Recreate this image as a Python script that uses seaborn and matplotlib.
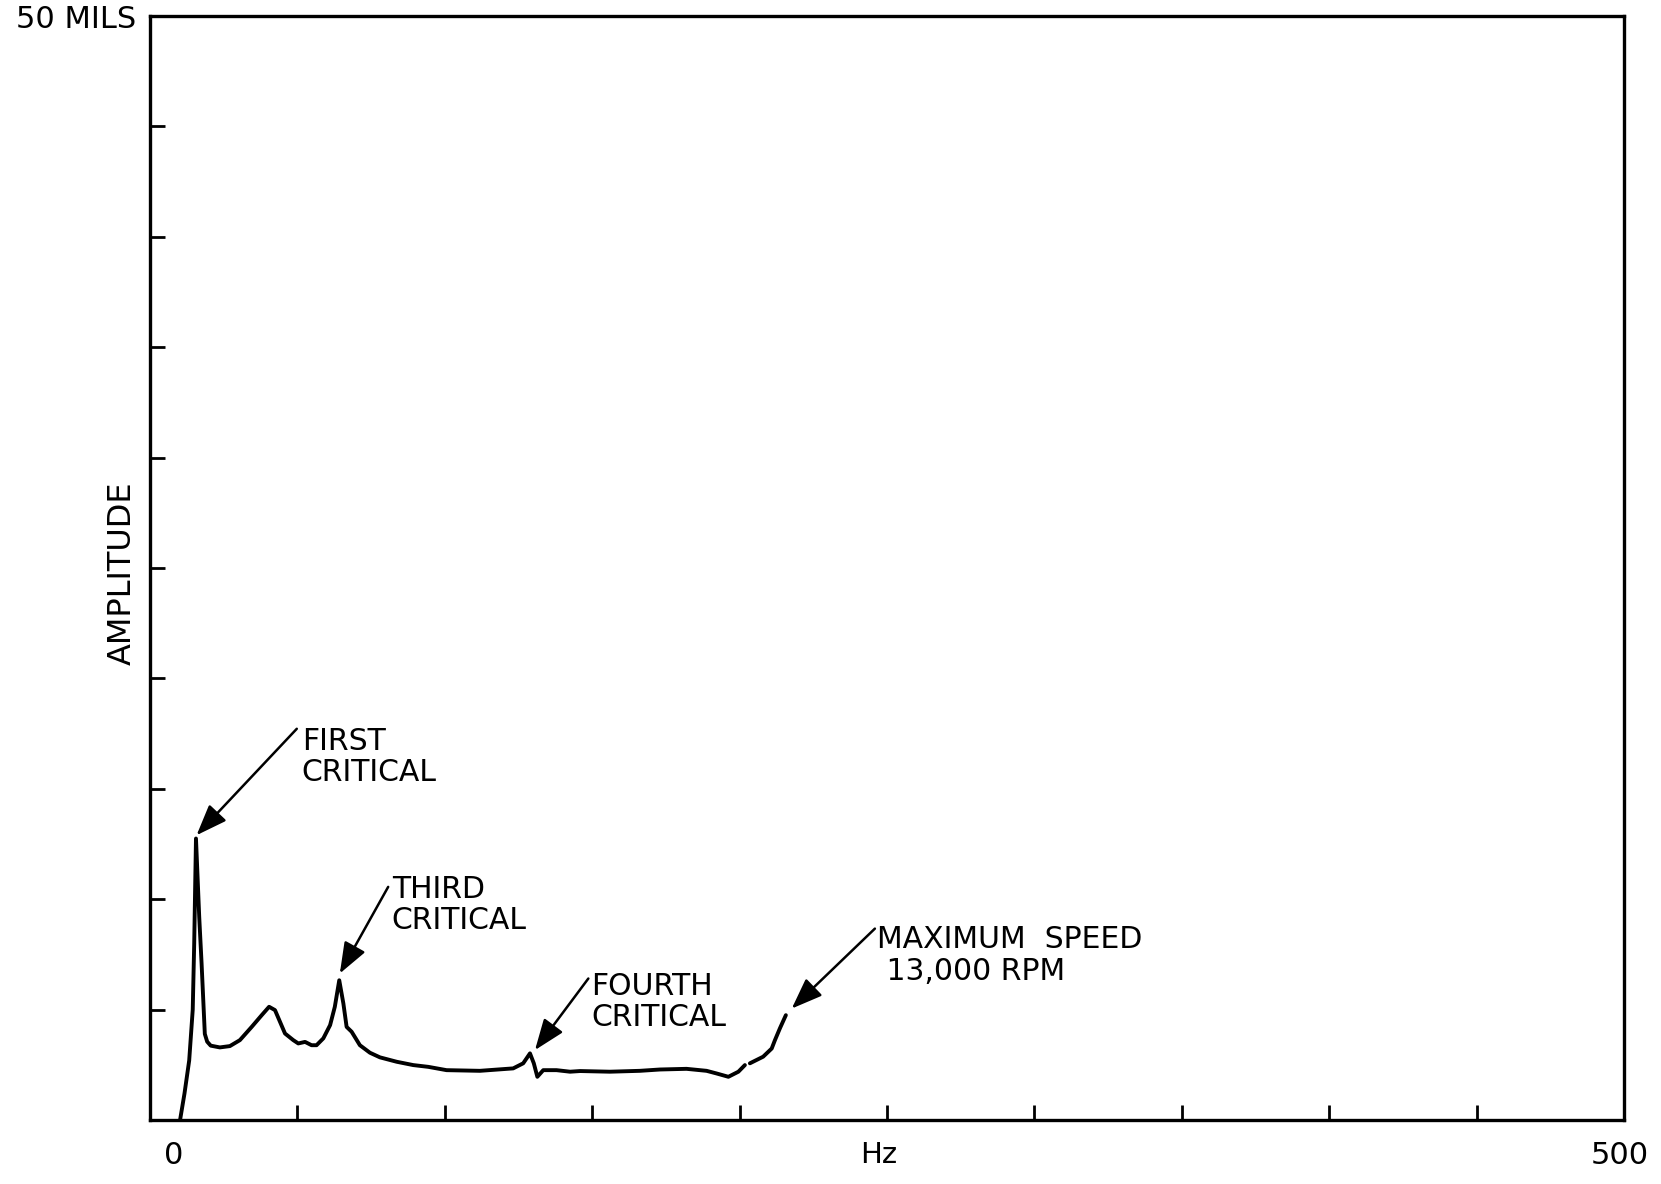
import pandas as pd
import matplotlib.pyplot as plt
import seaborn as sns

# frequency sweep trace (Hz, mils), drawn in two pieces because of the gap near 202 Hz
hz_main = [10.2, 11.7, 13.3, 14.5, 15.0, 15.6, 16.7, 17.5, 18.6, 19.4, 20.6, 23.7, 27.1, 30.5,
           34.5, 37.9, 40.4, 42.4, 44.1, 45.8, 48.6, 50.3, 52.6, 54.8, 56.5, 58.8, 61.1, 62.7,
           64.2, 65.6, 66.7, 68.4, 71.2, 74.6, 78.0, 83.7, 89.3, 94.4, 100.6, 111.9, 123.2,
           126.6, 128.9, 130.2, 131.4, 133.4, 137.9, 142.5, 145.9, 156.0, 166.2, 173.0, 182.0,
           188.8, 192.2, 196.2, 199.6, 201.8]
amp_main = [0.0, 1.2, 2.7, 5.0, 8.0, 12.75, 9.2, 7.1, 3.9, 3.55, 3.37, 3.29, 3.35, 3.62,
            4.22, 4.75, 5.13, 4.98, 4.45, 3.92, 3.62, 3.47, 3.54, 3.39, 3.39, 3.70, 4.30, 5.13,
            6.33, 5.28, 4.22, 4.0, 3.39, 3.05, 2.84, 2.64, 2.49, 2.41, 2.26, 2.23, 2.34,
            2.57, 3.02, 2.57, 1.96, 2.26, 2.26, 2.19, 2.22, 2.19, 2.23, 2.29, 2.32,
            2.23, 2.11, 1.96, 2.19, 2.49]
hz_end = [203.5, 208.0, 210.9, 212.0, 213.7, 215.7]
amp_end = [2.57, 2.87, 3.24, 3.62, 4.16, 4.75]

notes = ["FIRST\nCRITICAL", "THIRD\nCRITICAL", "FOURTH\nCRITICAL", "MAXIMUM  SPEED\n 13,000 RPM"]
note_xy = [(51.5, 17.8), (82.0, 11.1), (149.8, 6.71), (246.5, 8.82)]
arrow_tail = [(49.8, 17.72), (80.8, 10.56), (148.7, 6.41), (245.9, 8.67)]
arrow_tip = [(15.8, 12.9), (64.4, 6.64), (130.6, 3.17), (217.7, 5.05)]

df = pd.concat([
    pd.DataFrame({"hz": hz_main, "amp": amp_main, "seg": 0}),
    pd.DataFrame({"hz": hz_end, "amp": amp_end, "seg": 1}),
])

sns.set_style("white")
plt.rcParams["font.family"] = ["DejaVu Sans"]
plt.rcParams["text.color"] = "black"

fig = plt.figure(figsize=(16.61, 11.84), dpi=100)
ax = fig.add_axes([0.0903, 0.054, 0.8874, 0.9325])

sns.lineplot(data=df, x="hz", y="amp", units="seg", estimator=None,
             color="black", linewidth=2.8, ax=ax, legend=False)

ax.set_xlim(0, 500)
ax.set_ylim(0, 50)
ax.set_xticks(range(50, 500, 50))
ax.set_yticks(range(5, 50, 5))
ax.set_xticklabels([])
ax.set_yticklabels([])
ax.tick_params(direction="in", length=11, width=2, color="black",
               top=False, right=False, bottom=True, left=True)
for s in ax.spines.values():
    s.set_visible(True)
    s.set_color("black")
    s.set_linewidth(2.4)
ax.set_xlabel("")
ax.set_ylabel("")

for txt, (tx, ty), tail, tip in zip(notes, note_xy, arrow_tail, arrow_tip):
    ax.text(tx, ty, txt, fontsize=21.5, color="black", ha="left", va="top",
            linespacing=1.1)
    ax.annotate("", xy=tip, xytext=tail,
                arrowprops=dict(arrowstyle="-|>,head_length=1.0,head_width=0.38",
                                lw=1.8, color="black", shrinkA=0, shrinkB=0,
                                mutation_scale=19))

# axis end labels as in the original drawing
xlab = ax.get_xaxis_transform()
ax.text(7.9, -0.032, "0", transform=xlab, fontsize=22, ha="center", va="center")
ax.text(247.3, -0.032, "Hz", transform=xlab, fontsize=21, ha="center", va="center")
ax.text(498.6, -0.032, "500", transform=xlab, fontsize=22, ha="center", va="center")
ax.text(-0.009, 0.9964, "50 MILS", transform=ax.transAxes, fontsize=22,
        ha="right", va="center")
ax.text(-0.0187, 0.4955, "AMPLITUDE", transform=ax.transAxes, fontsize=23,
        rotation=90, ha="center", va="center")

fig.savefig("out.png", dpi=100)
